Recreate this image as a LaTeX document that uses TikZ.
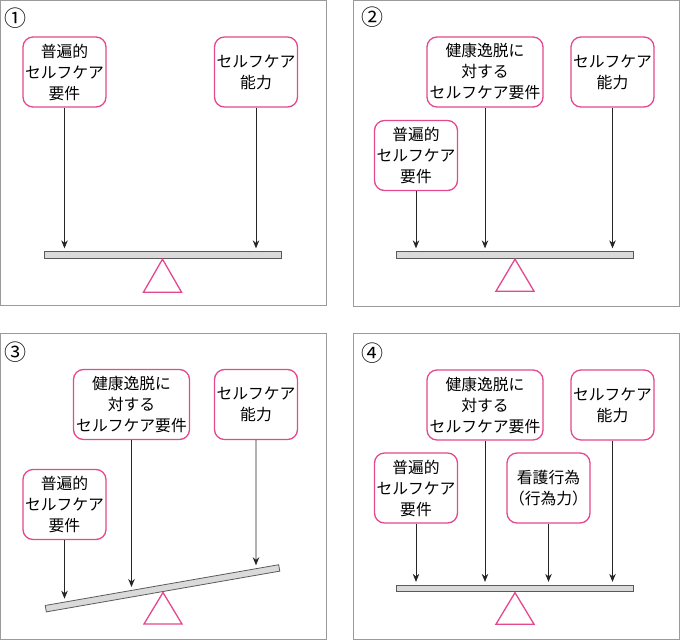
\documentclass[tikz,border=0pt]{standalone}
\usepackage{fontspec}
\setmainfont{Noto Sans CJK JP}
\usetikzlibrary{arrows.meta}
\definecolor{boxpink}{RGB}{228,72,142}
\definecolor{framegray}{RGB}{155,155,155}
\definecolor{beamgray}{RGB}{218,218,218}
\definecolor{beamedge}{RGB}{90,90,90}
\definecolor{arrowdark}{RGB}{40,36,36}

\begin{document}
\begin{tikzpicture}[x=1pt,y=-1pt,
  panel/.style={draw=framegray,line width=0.9pt},
  numtag/.style={font=\fontsize{22}{22}\selectfont,inner sep=0pt},
  reqbox/.style={draw=boxpink,line width=1.3pt,rounded corners=10pt,fill=white,
    align=center,inner sep=0pt,minimum height=70pt,
    font=\fontsize{15.8}{21}\selectfont},
  narrowbox/.style={reqbox,minimum width=83pt},
  widebox/.style={reqbox,minimum width=116pt},
  beam/.style={draw=beamedge,fill=beamgray,line width=0.8pt,inner sep=0pt,
    minimum width=237pt,minimum height=6.5pt},
  pivot/.style={draw=boxpink,fill=white,line width=1.3pt,line join=miter},
  push/.style={draw=arrowdark,line width=0.8pt,shorten >=3pt,
    -{Stealth[length=8pt,width=6.5pt]}}]
\useasboundingbox (0,0) rectangle (680,640);

\draw[panel] (0.5,0.5) rectangle (326,305.5);
\node[numtag] (n1) at (16,18) {①};
\node[narrowbox] (u1) at (64.5,72) {普遍的\\セルフケア\\要件};
\node[narrowbox] (a1) at (256,72) {セルフケア\\能力};
\node[beam] (b1) at (162.5,255) {};
\draw[pivot] (b1.south) ++(0,0.5) -- ++(19,33) -- ++(-38,0) -- cycle;
\draw[push] (u1.south) -- (u1.south |- b1.north);
\draw[push] (a1.south) -- (a1.south |- b1.north);

\draw[panel] (353,0.5) rectangle (679.5,306);
\node[numtag] (n2) at (372,17) {②};
\node[widebox] (d2) at (485,72) {健康逸脱に\\対する\\セルフケア要件};
\node[narrowbox] (a2) at (612.5,72) {セルフケア\\能力};
\node[narrowbox] (u2) at (416,155.5) {普遍的\\セルフケア\\要件};
\node[beam] (b2) at (515,255) {};
\draw[pivot] (b2.south) ++(0,0.5) -- ++(19,32) -- ++(-38,0) -- cycle;
\draw[push] (u2.south) -- (u2.south |- b2.north);
\draw[push] (d2.south) -- (d2.south |- b2.north);
\draw[push] (a2.south) -- (a2.south |- b2.north);

\draw[panel] (0.5,333) rectangle (326,639);
\node[numtag] (n3) at (16,352) {③};
\node[widebox] (d3) at (131.5,404.5) {健康逸脱に\\対する\\セルフケア要件};
\node[narrowbox] (a3) at (256,404.5) {セルフケア\\能力};
\node[narrowbox] (u3) at (64.5,504.5) {普遍的\\セルフケア\\要件};
\node[beam,rotate=9.9] (b3) at (162.5,588.3) {};
\draw[pivot] (163,592.5) -- ++(19,31.5) -- ++(-38,0) -- cycle;
\draw[push] (u3.south) -- (intersection of b3.north west--b3.north east and u3.south--u3.center);
\draw[push] (d3.south) -- (intersection of b3.north west--b3.north east and d3.south--d3.center);
\draw[push] (a3.south) -- (intersection of b3.north west--b3.north east and a3.south--a3.center);

\draw[panel] (353,333) rectangle (679.5,639);
\node[numtag] (n4) at (372,353) {④};
\node[widebox] (d4) at (485,405) {健康逸脱に\\対する\\セルフケア要件};
\node[narrowbox] (a4) at (612.5,405) {セルフケア\\能力};
\node[narrowbox] (u4) at (416,488) {普遍的\\セルフケア\\要件};
\node[narrowbox] (k4) at (548.5,488) {看護行為\\（行為力）};
\node[beam] (b4) at (515,588.5) {};
\draw[pivot] (b4.south) ++(0,0.5) -- ++(19,31.5) -- ++(-38,0) -- cycle;
\draw[push] (u4.south) -- (u4.south |- b4.north);
\draw[push] (d4.south) -- (d4.south |- b4.north);
\draw[push] (k4.south) -- (k4.south |- b4.north);
\draw[push] (a4.south) -- (a4.south |- b4.north);
\end{tikzpicture}
\end{document}
